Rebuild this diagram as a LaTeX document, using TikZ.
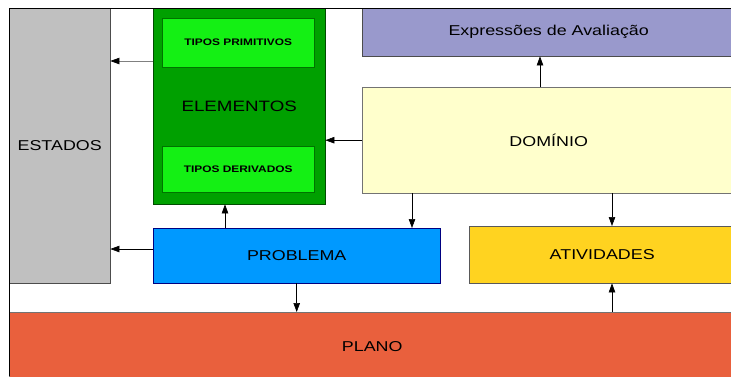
\documentclass[tikz,border=0pt]{standalone}
\usepackage{fontspec}
\setmainfont{Liberation Sans}[FakeStretch=1.25]
\usetikzlibrary{arrows.meta}
\definecolor{cinza}{HTML}{C0C0C0}
\definecolor{verdeesc}{HTML}{00A000}
\definecolor{verdecla}{HTML}{14F014}
\definecolor{lilas}{HTML}{9999CC}
\definecolor{creme}{HTML}{FFFFCC}
\definecolor{azul}{HTML}{0099FF}
\definecolor{ouro}{HTML}{FFD320}
\definecolor{laranja}{HTML}{E9603D}

\begin{document}
\begin{tikzpicture}[x=1pt,y=-1pt,
    caixa/.style={draw=black!70, rectangle, inner sep=0pt, anchor=north west,
        font=\fontsize{14.3}{16}\selectfont},
    tipo/.style={caixa, fill=verdecla, draw=green!45!black, minimum width=152pt,
        font=\bfseries\fontsize{9.5}{11}\selectfont},
    seta/.style={-{Triangle[length=9pt,width=6.5pt,black]}, line width=0.6pt}]
    \useasboundingbox (0,0) rectangle (731,376);
    \clip (0,0) rectangle (731,376);
    \fill[white] (0,0) rectangle (731,376);
    % caixas
    \node[caixa, fill=cinza, minimum width=101pt, minimum height=275pt] (est) at (9,8) {ESTADOS};
    \node[caixa, fill=verdeesc, draw=green!30!black, minimum width=172pt, minimum height=196pt,
        font=\fontsize{15}{17}\selectfont] (elem) at (153,8) {ELEMENTOS};
    \node[tipo, minimum height=49pt] (prim) at (162,18) {TIPOS PRIMITIVOS};
    \node[tipo, minimum height=46pt] (deriv) at (162,146) {TIPOS DERIVADOS};
    \node[caixa, fill=lilas, minimum width=373pt, minimum height=48pt] (expr) at (362,8) {Expressões de Avaliação};
    \node[caixa, fill=creme, draw=black!55, minimum width=373pt, minimum height=106pt] (dom) at (362,87) {DOMÍNIO};
    \node[caixa, fill=azul, draw=blue!50!black, minimum width=287pt, minimum height=55pt] (prob) at (153,228) {PROBLEMA};
    \node[caixa, fill=ouro, draw=black!65, minimum width=266pt, minimum height=57pt] (ativ) at (469,226) {ATIVIDADES};
    \node[caixa, fill=laranja, draw=black!55, minimum width=726pt, minimum height=68pt] (plano) at (9,312) {PLANO};
    % setas
    \draw[seta, black!50] ([yshift=-53pt]elem.north west) -- ([yshift=-53pt]elem.north west -| est.east);
    \draw[seta] (dom.west) -- (dom.west -| elem.east);
    \draw[seta] ([xshift=178pt]dom.north west) -- ([xshift=178pt]dom.north west |- expr.south);
    \draw[seta] ([xshift=72pt]prob.north west) -- ([xshift=72pt]prob.north west |- elem.south);
    \draw[seta] ([yshift=-21pt]prob.north west) -- ([yshift=-21pt]prob.north west -| est.east);
    \draw[seta] ([xshift=50pt]dom.south west) -- ([xshift=50pt]dom.south west |- prob.north);
    \draw[seta] ([xshift=250pt]dom.south west) -- ([xshift=250pt]dom.south west |- ativ.north);
    \draw[seta] (prob.south) -- (prob.south |- plano.north);
    \draw[seta] ([xshift=250pt]dom.south west |- plano.north) -- ([xshift=250pt]dom.south west |- ativ.south);
    % moldura
    \draw[line width=0.8pt] (9,376) -- (9,8) -- (731,8);
\end{tikzpicture}
\end{document}
